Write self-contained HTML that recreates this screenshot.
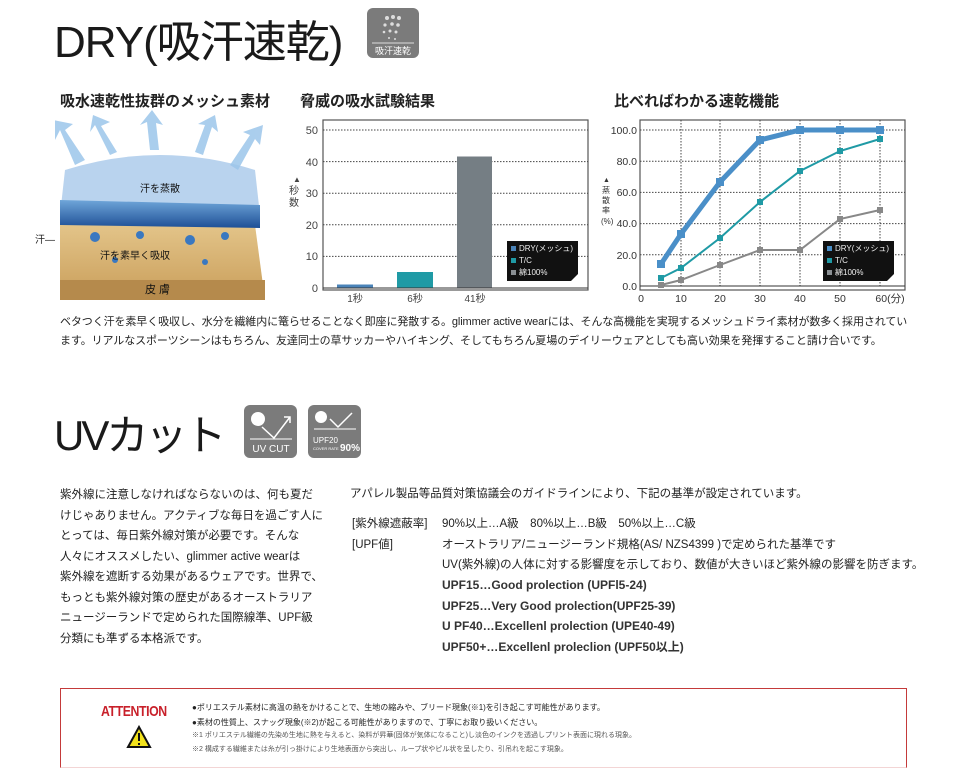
<!DOCTYPE html>
<html><head><meta charset="utf-8"><style>
body{margin:0;width:980px;height:780px;background:#fff;position:relative;overflow:hidden;font-family:"Liberation Sans","Noto Sans CJK JP",sans-serif;color:#222}
.a{position:absolute;white-space:nowrap}
.h1{font-size:44px;font-weight:400;letter-spacing:-1px;color:#1a1a1a}
.h2{font-size:15px;font-weight:700}
.p{font-size:11.5px;line-height:19px}
.icon{position:absolute;background:#7b7b7b;border-radius:6px}
</style></head><body>
<div class="a h1" style="left:54px;top:6px;">DRY(吸汗速乾)</div>
<div class="icon" style="left:367px;top:8px;width:52px;height:50px;">
<svg width="52" height="50"><g fill="#ddd"><circle cx="20" cy="10" r="2"/><circle cx="26" cy="9" r="2"/><circle cx="32" cy="10" r="2"/><circle cx="18" cy="17" r="1.6"/><circle cx="25" cy="16" r="1.8"/><circle cx="31" cy="17" r="1.8"/><circle cx="17" cy="24" r="1.3"/><circle cx="23" cy="23" r="1.5"/><circle cx="29" cy="24" r="1.5"/><circle cx="22" cy="30" r="1"/><circle cx="28" cy="31" r="1"/></g><line x1="5" y1="35" x2="47" y2="35" stroke="#ddd"/><text x="26" y="46" font-size="9" fill="#fff" text-anchor="middle">吸汗速乾</text></svg></div>

<div class="a h2" style="left:60px;top:90px;">吸水速乾性抜群のメッシュ素材</div>
<div class="a h2" style="left:300px;top:90px;">脅威の吸水試験結果</div>
<div class="a h2" style="left:614px;top:90px;">比べればわかる速乾機能</div>

<!-- illustration -->
<svg class="a" style="left:55px;top:110px" width="215" height="195">
<defs><linearGradient id="sk" x1="0" y1="0" x2="0" y2="1"><stop offset="0" stop-color="#e3c489"/><stop offset="1" stop-color="#c99e5a"/></linearGradient>
<linearGradient id="fb" x1="0" y1="0" x2="0" y2="1"><stop offset="0" stop-color="#6fa6d9"/><stop offset="1" stop-color="#1e4f96"/></linearGradient></defs>
<path d="M5 115 L200 115 L210 190 L5 190Z" fill="url(#sk)"/>
<rect x="5" y="170" width="205" height="20" fill="#b58a4c"/>
<path d="M10 60 Q105 30 200 60 L205 105 L5 105Z" fill="#b9d3ee"/>
<path d="M5 90 L205 95 L205 118 L5 115Z" fill="url(#fb)"/>
<g fill="#9cc6ea" opacity=".85">
<path d="M20 55 L5 20 L0 30 L-2 10 L18 14 L10 20 L30 50Z"/>
<path d="M55 45 L40 15 L35 22 L38 5 L55 12 L46 16 L62 42Z"/>
<path d="M95 40 L92 12 L85 15 L97 0 L108 15 L101 13 L104 40Z"/>
<path d="M140 42 L150 15 L143 14 L160 5 L163 22 L157 17 L148 45Z"/>
<path d="M175 55 L195 25 L188 22 L208 15 L205 35 L200 29 L183 60Z"/>
</g>
<g fill="#3a78c0"><circle cx="40" cy="127" r="5"/><circle cx="85" cy="125" r="4"/><circle cx="135" cy="130" r="5"/><circle cx="170" cy="126" r="4"/><circle cx="60" cy="150" r="3"/><circle cx="150" cy="152" r="3"/></g>
<text x="85" y="82" font-size="10" fill="#111">汗を蒸散</text>
<text x="45" y="149" font-size="10" fill="#111">汗を素早く吸収</text>
<text x="90" y="183" font-size="11" fill="#111">皮  膚</text>
</svg>
<div class="a" style="left:35px;top:231px;font-size:10px;">汗—</div>

<!-- bar chart -->
<svg class="a" style="left:285px;top:110px" width="310" height="200" font-size="10" fill="#444">
<rect x="38" y="10" width="265" height="170" fill="#fff" stroke="#555" stroke-width="1.2"/>
<g stroke="#444" stroke-dasharray="1.5,1.5"><line x1="38" y1="20" x2="303" y2="20"/><line x1="38" y1="51.6" x2="303" y2="51.6"/><line x1="38" y1="83.2" x2="303" y2="83.2"/><line x1="38" y1="114.8" x2="303" y2="114.8"/><line x1="38" y1="146.4" x2="303" y2="146.4"/></g>
<g text-anchor="end" font-size="11"><text x="33" y="24">50</text><text x="33" y="56">40</text><text x="33" y="87">30</text><text x="33" y="119">20</text><text x="33" y="150">10</text><text x="33" y="182">0</text></g>
<text x="8" y="72" font-size="8">▲</text><text x="4" y="84">秒</text><text x="4" y="96">数</text>
<rect x="52" y="174.5" width="36" height="3.5" fill="#4a83b8"/>
<rect x="112" y="162" width="36" height="16" fill="#1f9aa5"/>
<rect x="172" y="46.5" width="35" height="131.5" fill="#757e84"/>
<line x1="38" y1="178" x2="303" y2="178" stroke="#333"/>
<g text-anchor="middle"><text x="70" y="192">1秒</text><text x="130" y="192">6秒</text><text x="190" y="192">41秒</text></g>
<path d="M222 131 L293 131 L293 164 L286 171 L222 171Z" fill="#111"/>
<g font-size="8" fill="#eee"><rect x="226" y="136" width="5" height="5" fill="#4a83b8"/><text x="234" y="141">DRY(メッシュ)</text><rect x="226" y="148" width="5" height="5" fill="#1f9aa5"/><text x="234" y="153">T/C</text><rect x="226" y="160" width="5" height="5" fill="#8a8f93"/><text x="234" y="165">綿100%</text></g>
</svg>

<!-- line chart -->
<svg class="a" style="left:600px;top:110px" width="320" height="200" font-size="10.5" fill="#333">
<rect x="40" y="10" width="265" height="170" fill="#fff" stroke="#555" stroke-width="1.2"/>
<g stroke="#444" stroke-dasharray="1.5,1.5"><line x1="40" y1="20" x2="305" y2="20"/><line x1="40" y1="51.2" x2="305" y2="51.2"/><line x1="40" y1="82.4" x2="305" y2="82.4"/><line x1="40" y1="113.6" x2="305" y2="113.6"/><line x1="40" y1="144.8" x2="305" y2="144.8"/>
<line x1="81" y1="10" x2="81" y2="176"/><line x1="120" y1="10" x2="120" y2="176"/><line x1="160" y1="10" x2="160" y2="176"/><line x1="200" y1="10" x2="200" y2="176"/><line x1="240" y1="10" x2="240" y2="176"/><line x1="280" y1="10" x2="280" y2="176"/></g>
<g text-anchor="end"><text x="37" y="24">100.0</text><text x="37" y="55">80.0</text><text x="37" y="86">60.0</text><text x="37" y="117">40.0</text><text x="37" y="149">20.0</text><text x="37" y="180">0.0</text></g>
<g text-anchor="middle"><text x="41" y="192">0</text><text x="81" y="192">10</text><text x="120" y="192">20</text><text x="160" y="192">30</text><text x="200" y="192">40</text><text x="240" y="192">50</text><text x="290" y="192">60(分)</text></g>
<text x="3" y="72" font-size="7">▲</text><g font-size="8"><text x="2" y="83">蒸</text><text x="2" y="93">散</text><text x="2" y="103">率</text><text x="1" y="114">(%)</text></g>
<line x1="40" y1="176" x2="305" y2="176" stroke="#333"/>
<polyline points="61,175 81,170 120,155 160,140 200,140 240,109 280,100" fill="none" stroke="#888" stroke-width="2"/>
<polyline points="61,168 81,158 120,128 160,92 200,61 240,41 280,29" fill="none" stroke="#1f9aa5" stroke-width="2"/>
<polyline points="61,154 81,124 120,72 160,30 200,20 240,20 280,20" fill="none" stroke="#4a8fc8" stroke-width="5"/>
<g fill="#888"><rect x="58" y="172" width="6" height="6"/><rect x="78" y="167" width="6" height="6"/><rect x="117" y="152" width="6" height="6"/><rect x="157" y="137" width="6" height="6"/><rect x="197" y="137" width="6" height="6"/><rect x="237" y="106" width="6" height="6"/><rect x="277" y="97" width="6" height="6"/></g>
<g fill="#1f9aa5"><rect x="58" y="165" width="6" height="6"/><rect x="78" y="155" width="6" height="6"/><rect x="117" y="125" width="6" height="6"/><rect x="157" y="89" width="6" height="6"/><rect x="197" y="58" width="6" height="6"/><rect x="237" y="38" width="6" height="6"/><rect x="277" y="26" width="6" height="6"/></g>
<g fill="#4a8fc8"><rect x="57" y="150" width="8" height="8"/><rect x="77" y="120" width="8" height="8"/><rect x="116" y="68" width="8" height="8"/><rect x="156" y="26" width="8" height="8"/><rect x="196" y="16" width="8" height="8"/><rect x="236" y="16" width="8" height="8"/><rect x="276" y="16" width="8" height="8"/></g>
<path d="M223 131 L294 131 L294 164 L287 171 L223 171Z" fill="#111"/>
<g font-size="8" fill="#eee"><rect x="227" y="136" width="5" height="5" fill="#4a8fc8"/><text x="235" y="141">DRY(メッシュ)</text><rect x="227" y="148" width="5" height="5" fill="#1f9aa5"/><text x="235" y="153">T/C</text><rect x="227" y="160" width="5" height="5" fill="#8a8f93"/><text x="235" y="165">綿100%</text></g>
</svg>

<div class="a p" style="left:60px;top:313px;font-size:11px;letter-spacing:-0.1px;">ベタつく汗を素早く吸収し、水分を繊維内に篭らせることなく即座に発散する。glimmer active wearには、そんな高機能を実現するメッシュドライ素材が数多く採用されてい</div>
<div class="a p" style="left:60px;top:332px;font-size:11px;letter-spacing:-0.1px;">ます。リアルなスポーツシーンはもちろん、友達同士の草サッカーやハイキング、そしてもちろん夏場のデイリーウェアとしても高い効果を発揮すること請け合いです。</div>

<div class="a h1" style="left:54px;top:402px;letter-spacing:-3px;font-size:42px;">UVカット</div>
<div class="icon" style="left:244px;top:405px;width:53px;height:53px;">
<svg width="53" height="53"><circle cx="14" cy="14" r="7" fill="#fff"/><polyline points="18,22 30,33 46,12" fill="none" stroke="#fff" stroke-width="1.5"/><polyline points="40,12 46,12 46,18" fill="none" stroke="#fff" stroke-width="1.5"/><line x1="6" y1="34" x2="48" y2="34" stroke="#fff"/><text x="27" y="47" font-size="10" fill="#fff" text-anchor="middle">UV CUT</text></svg></div>
<div class="icon" style="left:308px;top:405px;width:53px;height:53px;">
<svg width="53" height="53"><circle cx="13" cy="12" r="6" fill="#fff"/><polyline points="22,14 30,22 44,8" fill="none" stroke="#fff" stroke-width="1.5"/><line x1="6" y1="24" x2="48" y2="24" stroke="#fff"/><text x="5" y="38" font-size="8" fill="#fff">UPF20</text><text x="5" y="45" font-size="4" fill="#fff">COVER RATE</text><text x="32" y="46" font-size="10" font-weight="700" fill="#fff">90%</text></svg></div>

<div class="a p" style="left:60px;top:485px;line-height:20.5px;">紫外線に注意しなければならないのは、何も夏だ<br>けじゃありません。アクティブな毎日を過ごす人に<br>とっては、毎日紫外線対策が必要です。そんな<br>人々にオススメしたい、glimmer active wearは<br>紫外線を遮断する効果があるウェアです。世界で、<br>もっとも紫外線対策の歴史があるオーストラリア<br>ニュージーランドで定められた国際線準、UPF級<br>分類にも準ずる本格派です。</div>

<div class="a p" style="left:350px;top:485px;">アパレル製品等品質対策協議会のガイドラインにより、下記の基準が設定されています。</div>
<div class="a p" style="left:352px;top:514px;line-height:20.5px;">[紫外線遮蔽率]<br>[UPF値]</div>
<div class="a p" style="left:442px;top:514px;line-height:20.5px;">90%以上…A級　80%以上…B級　50%以上…C級<br>オーストラリア/ニュージーランド規格(AS/ NZS4399 )で定められた基準です<br>UV(紫外線)の人体に対する影響度を示しており、数値が大きいほど紫外線の影響を防ぎます。</div>
<div class="a" style="left:442px;top:575px;font-size:12px;line-height:20.5px;font-weight:700;color:#333;">UPF15…Good prolection (UPFl5-24)<br>UPF25…Very Good prolection(UPF25-39)<br>U PF40…Excellenl prolection (UPE40-49)<br>UPF50+…Excellenl proleclion (UPF50以上)</div>

<div class="a" style="left:60px;top:688px;width:845px;height:78px;border:1.5px solid #c43a3a;border-bottom-color:#f3d5d5;"></div>
<div class="a" style="left:101px;top:703px;font-size:15px;font-weight:700;color:#c8202a;letter-spacing:-0.5px;transform:scaleX(0.82);transform-origin:left;">ATTENTION</div>
<svg class="a" style="left:126px;top:725px" width="26" height="24"><path d="M13 2 L24 22 L2 22Z" fill="#f2e21c" stroke="#111" stroke-width="2"/><rect x="12" y="8" width="2" height="8" fill="#111"/><rect x="12" y="18" width="2" height="2" fill="#111"/></svg>
<div class="a" style="left:192px;top:700px;font-size:8px;line-height:15px;color:#222;">●ポリエステル素材に高温の熱をかけることで、生地の縮みや、ブリード現象(※1)を引き起こす可能性があります。<br>●素材の性質上、スナッグ現象(※2)が起こる可能性がありますので、丁寧にお取り扱いください。</div>
<div class="a" style="left:192px;top:729px;font-size:7px;line-height:14px;color:#555;">※1 ポリエステル繊維の先染め生地に熱を与えると、染料が昇華(固体が気体になること)し淡色のインクを透過しプリント表面に現れる現象。<br>※2 構成する繊維または糸が引っ掛けにより生地表面から突出し、ループ状やピル状を呈したり、引吊れを起こす現象。</div>
</body></html>
